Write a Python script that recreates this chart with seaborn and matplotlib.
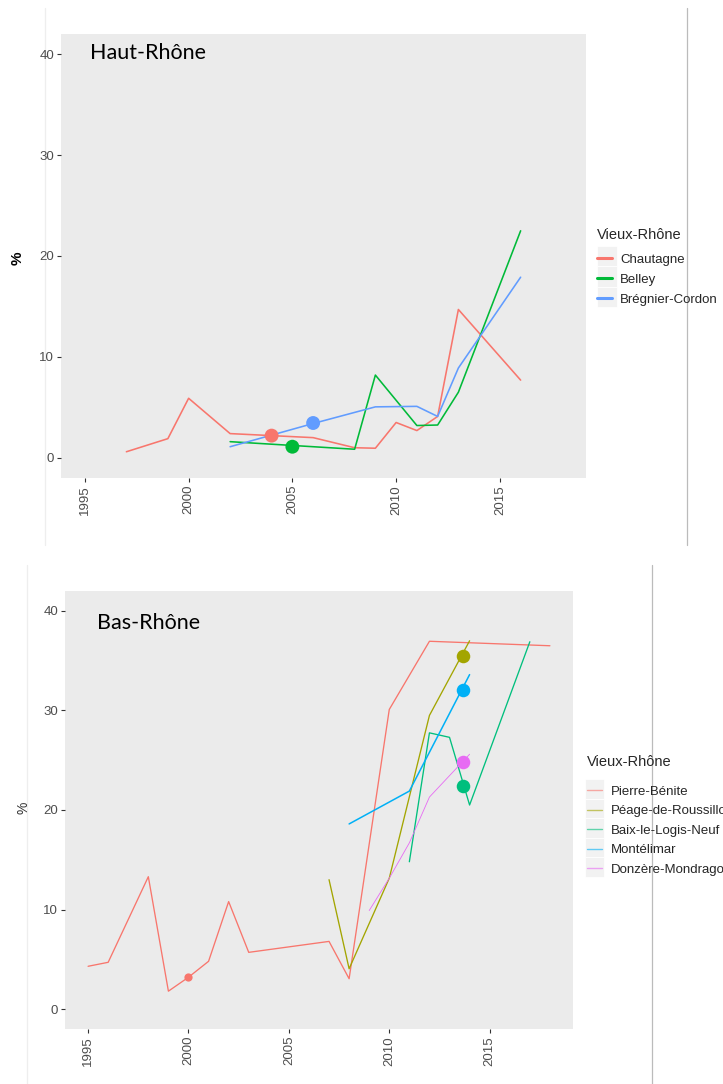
import numpy as np
import pandas as pd
import matplotlib
matplotlib.use("Agg")
import matplotlib.pyplot as plt
from matplotlib.lines import Line2D
from matplotlib.patches import Rectangle
import seaborn as sns

# ---- Haut-Rhône data ----
haut_sites = ["Chautagne", "Belley", "Brégnier-Cordon"]
haut_colors = ["#F8766D", "#00BA38", "#619CFF"]
chautagne_years = [1997, 1999, 2000, 2002, 2006, 2008, 2009, 2010, 2011, 2012, 2013, 2016]
chautagne_vals = [0.6, 1.9, 5.9, 2.4, 2.0, 1.0, 0.95, 3.5, 2.7, 4.1, 14.7, 7.7]
belley_years = [2002, 2008, 2009, 2011, 2012, 2013, 2016]
belley_vals = [1.6, 0.85, 8.2, 3.2, 3.25, 6.5, 22.5]
bregnier_years = [2002, 2006, 2009, 2011, 2012, 2013, 2016]
bregnier_vals = [1.1, 3.4, 5.05, 5.1, 4.1, 8.9, 17.9]
haut_dot_years = [2004, 2005, 2006]
haut_dot_vals = [2.2, 1.1, 3.45]

# ---- Bas-Rhône data ----
bas_sites = ["Pierre-Bénite", "Péage-de-Roussillon", "Baix-le-Logis-Neuf",
             "Montélimar", "Donzère-Mondragon"]
bas_colors = ["#F8766D", "#A3A500", "#00BF7D", "#00B0F6", "#E76BF3"]
pierre_years = [1995, 1996, 1998, 1999, 2000, 2001, 2002, 2003, 2007, 2008, 2010, 2012, 2018]
pierre_vals = [4.3, 4.7, 13.3, 1.8, 3.2, 4.8, 10.8, 5.7, 6.8, 3.05, 30.1, 36.95, 36.5]
peage_years = [2007, 2008, 2010, 2012, 2014]
peage_vals = [13.0, 4.05, 13.15, 29.5, 37.0]
baix_years = [2011, 2012, 2013, 2014, 2017]
baix_vals = [14.8, 27.75, 27.3, 20.5, 36.9]
montel_years = [2008, 2011, 2014]
montel_vals = [18.6, 21.9, 33.6]
donzere_years = [2009, 2010, 2011, 2012, 2014]
donzere_vals = [9.9, 13.15, 16.7, 21.3, 25.6]
bas_dot_sites = ["Pierre-Bénite", "Péage-de-Roussillon", "Baix-le-Logis-Neuf",
                 "Montélimar", "Donzère-Mondragon"]
bas_dot_years = [2000, 2013.65, 2013.65, 2013.65, 2013.65]
bas_dot_vals = [3.2, 35.5, 22.4, 32.1, 24.8]
bas_dot_sizes = [35, 95, 95, 95, 95]

xticks = [1995, 2000, 2005, 2010, 2015]
yticks = [0, 10, 20, 30, 40]

sns.set_theme(style="white")
plt.rcParams["font.family"] = ["Liberation Sans", "DejaVu Sans"]

fig = plt.figure(figsize=(7.23, 10.84), dpi=100)
W, H = 723, 1084


def px_axes(left, top, right, bottom):
    return fig.add_axes([left / W, 1 - bottom / H, (right - left) / W, (bottom - top) / H])


def style_axes(ax):
    ax.set_facecolor("#EBEBEB")
    for s in ax.spines.values():
        s.set_visible(False)
    ax.grid(False)
    ax.set_xlim(1993.85, 2019.15)
    ax.set_ylim(-2, 42)
    ax.set_xticks(xticks)
    ax.set_xticklabels([str(t) for t in xticks], rotation=90)
    ax.set_yticks(yticks)
    ax.tick_params(axis="both", length=3, width=0.8, color="#333333",
                   labelcolor="#4D4D4D", labelsize=9.5, pad=2,
                   bottom=True, left=True)
    ax.set_xlabel("")


def key_boxes(left, top, width, height, n):
    # grey backgrounds behind legend keys, ggplot style
    for i in range(n):
        y = top + i * height
        fig.add_artist(Rectangle((left / W, 1 - (y + height) / H), width / W, height / H,
                                 transform=fig.transFigure, facecolor="#F2F2F2",
                                 edgecolor="white", lw=0.6, zorder=-4))


# ---- top panel ----
ax1 = px_axes(61, 34, 586, 478)
haut_series = [(chautagne_years, chautagne_vals), (belley_years, belley_vals),
               (bregnier_years, bregnier_vals)]
for (yrs, vals), name, col in zip(haut_series, haut_sites, haut_colors):
    sns.lineplot(x=yrs, y=vals, color=col, linewidth=1.15, ax=ax1, label=name)
hdots = pd.DataFrame({"year": haut_dot_years, "pct": haut_dot_vals, "site": haut_sites})
sns.scatterplot(data=hdots, x="year", y="pct", hue="site", palette=haut_colors,
                s=100, linewidth=0, ax=ax1, legend=False, zorder=5)
style_axes(ax1)
ax1.set_ylabel("%", fontsize=11, fontweight="bold", color="black")
ax1.yaxis.set_label_coords(-0.0686, 0.495)
ax1.text(0.055, 0.958, "Haut-Rhône", transform=ax1.transAxes, family=["Lato", "DejaVu Sans"],
         fontsize=15.5, va="center", ha="left", color="black")
h1 = [Line2D([], [], color=c, lw=2.2) for c in haut_colors]
leg1 = ax1.legend(h1, haut_sites, title="Vieux-Rhône", loc="upper left",
                  bbox_to_anchor=(597 / W, 1 - 228 / H), bbox_transform=fig.transFigure,
                  frameon=False, fontsize=9.5, title_fontsize=10.5, handlelength=1.15,
                  handletextpad=0.6, labelspacing=0.59, borderpad=0, borderaxespad=0)
leg1._legend_box.align = "left"
leg1._legend_box.sep = 8.3
key_boxes(597, 246, 20, 20.3, 3)

# ---- bottom panel ----
ax2 = px_axes(65, 591, 573, 1029)
bas_series = [(pierre_years, pierre_vals), (peage_years, peage_vals), (baix_years, baix_vals),
              (montel_years, montel_vals), (donzere_years, donzere_vals)]
bas_lw = [0.95, 0.95, 0.95, 1.1, 0.6]
for (yrs, vals), name, col, lw in zip(bas_series, bas_sites, bas_colors, bas_lw):
    sns.lineplot(x=yrs, y=vals, color=col, linewidth=lw, ax=ax2, label=name)
bdots = pd.DataFrame({"year": bas_dot_years, "pct": bas_dot_vals, "site": bas_dot_sites,
                      "sz": bas_dot_sizes})
for _, r in bdots.iterrows():
    sns.scatterplot(x=[r["year"]], y=[r["pct"]], color=bas_colors[bas_sites.index(r["site"])],
                    s=r["sz"], linewidth=0, ax=ax2, legend=False, zorder=5)
style_axes(ax2)
ax2.set_ylabel("%", fontsize=10, color="#333333")
ax2.yaxis.set_label_coords(-0.067, 0.504)
ax2.text(0.063, 0.926, "Bas-Rhône", transform=ax2.transAxes, family=["Lato", "DejaVu Sans"],
         fontsize=15.5, va="center", ha="left", color="black")
h2 = [Line2D([], [], color=c, lw=1.0, alpha=0.6) for c in bas_colors]
leg2 = ax2.legend(h2, bas_sites, title="Vieux-Rhône", loc="upper left",
                  bbox_to_anchor=(587 / W, 1 - 755 / H), bbox_transform=fig.transFigure,
                  frameon=False, fontsize=9.5, title_fontsize=10.5, handlelength=1.1,
                  handletextpad=0.68, labelspacing=0.55, borderpad=0, borderaxespad=0)
leg2._legend_box.align = "left"
leg2._legend_box.sep = 12
key_boxes(585, 779, 19, 19.5, 5)

# separators from the original layout
for x, y0, y1, c in [(687, 8, 545, "#BBBBBB"), (652, 565, 1084, "#BBBBBB"),
                     (44.5, 8, 545, "#EEEEEE"), (27, 565, 1084, "#EEEEEE")]:
    fig.add_artist(Line2D([x / W, x / W], [1 - y0 / H, 1 - y1 / H],
                          transform=fig.transFigure, color=c, lw=0.9, zorder=-5))

fig.savefig("out.png", dpi=100)
